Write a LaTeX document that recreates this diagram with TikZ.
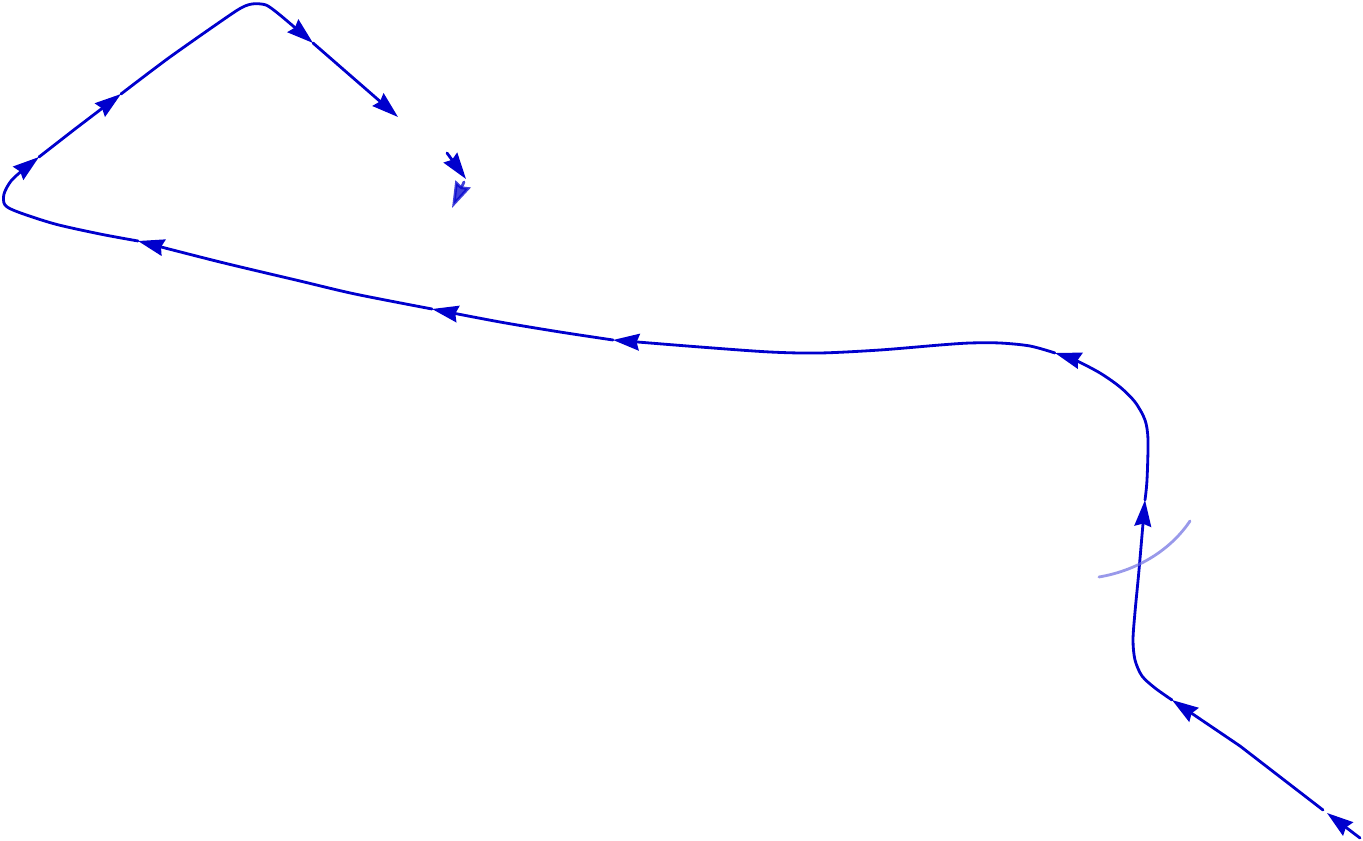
\documentclass[tikz,border=0pt]{standalone}
\usepackage{tikz}
\usetikzlibrary{arrows.meta}
\definecolor{RouteBlue}{RGB}{0,0,205}
\definecolor{ArcBlue}{RGB}{110,110,225}

\begin{document}
\begin{tikzpicture}[
		x=0.02cm, y=-0.02cm,
		leg/.style={draw=RouteBlue, line width=1.6pt, line join=round, line cap=round,
			-{Stealth[length=15pt, width=9.5pt, inset=1.5pt]}},
		faint/.style={draw=ArcBlue, line width=1.6pt, opacity=0.7, line cap=round}
		]
		\useasboundingbox (0,0) rectangle (1363,841);
		
		% ===== arrow tips along the route =====
		\coordinate (T1) at (1327,813);
		\coordinate (T2) at (1172,700);
		\coordinate (T3) at (1145,500);
		\coordinate (T4) at (1055,353);
		\coordinate (T5) at (613,340);
		\coordinate (T6) at (432,309);
		\coordinate (T7) at (138,241);
		\coordinate (T8) at (39,157);
		\coordinate (T9) at (121,94);
		\coordinate (T10) at (313,43);
		\coordinate (T11) at (398,117);
		
		% ===== route, leg by leg =====
		\draw[leg] (1360,838) -- (T1);
		\draw[leg] (1323,810) -- (1240,746) -- (T2);
		\draw[leg] plot[smooth] coordinates {(T2) (1155,688) (1142,676) (1135,660) (1133,640) (1135,612) (1139,570) (T3)};
		\draw[leg] plot[smooth] coordinates {(T3) (1147,480) (1148,440) (1145,420) (1135,402) (1120,387) (1100,373) (1075,360) (T4)};
		\draw[leg] plot[smooth] coordinates {(T4) (1030,346) (1000,343) (970,343) (940,345) (880,350) (820,353) (770,352) (700,347) (T5)};
		\draw[leg] plot[smooth] coordinates {(T5) (560,332) (500,322) (T6)};
		\draw[leg] plot[smooth] coordinates {(T6) (355,294) (300,281) (220,262) (T7)};
		\draw[leg] plot[smooth] coordinates {(T7) (100,234) (55,224) (18,212) (5,205) (4,194) (11,181) (24,169) (T8)};
		\draw[leg] (T8) -- (75,129) -- (T9);
		\draw[leg] plot[smooth, tension=0.4] coordinates {(T9) (170,57) (236,11) (252,4) (266,5) (280,15) (T10)};
		\draw[leg] (T10) -- (T11);
		
		% ===== loose pieces after the gap =====
		\coordinate (F1) at (466,179);
		\coordinate (F2) at (452,208);
		\draw[leg] (447,153) -- (F1);
		\draw[leg, opacity=0.75] (464,182) -- (F2);
		
		% ===== faint arc =====
		\draw[faint] (1099,577) .. controls (1140,570) and (1172,548) .. (1190,521);
		
	\end{tikzpicture}
\end{document}
